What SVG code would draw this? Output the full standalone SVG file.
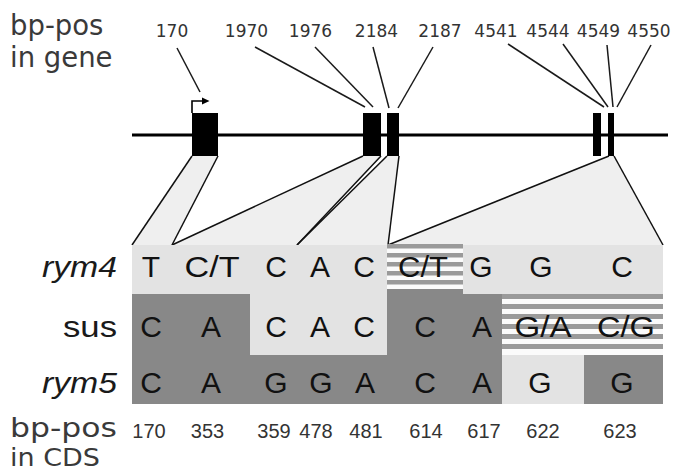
<svg xmlns="http://www.w3.org/2000/svg" width="674" height="475" viewBox="0 0 674 475">
  <style>
    .axis { font-family: "DejaVu Sans", Verdana, sans-serif; fill: #3a3a3a; }
    .gpos { font-family: "DejaVu Sans", Verdana, sans-serif; font-size: 17px; fill: #333; text-anchor: middle; }
    .base { font-family: "Liberation Sans", Arial, sans-serif; font-size: 30px; fill: #111; text-anchor: middle; }
    .row { font-family: "Liberation Sans", Arial, sans-serif; font-size: 30px; fill: #1a1a1a; text-anchor: end; }
    .cpos { font-family: "Liberation Sans", Arial, sans-serif; font-size: 20px; fill: #333; text-anchor: middle; }
    .lead { stroke: #1a1a1a; stroke-width: 1.5; fill: none; }
    .proj { fill: #efefef; stroke: none; }
    .edge { stroke: #111; stroke-width: 1.5; fill: none; }
    .exon { fill: #000; }
    .lt { fill: #e3e3e3; }
    .dk { fill: #888; }
    .wh { fill: #fbfbfb; }
    .st { fill: #9a9a9a; }
  </style>

  <!-- axis captions -->
  <g id="caption-gene">
    <text class="axis" x="10" y="35" font-size="27.5">bp-pos</text>
    <text class="axis" x="10" y="67" font-size="27.5">in gene</text>
  </g>
  <g id="caption-cds">
    <text class="axis" x="10" y="437" font-size="26" textLength="107" lengthAdjust="spacingAndGlyphs">bp-pos</text>
    <text class="axis" x="10" y="466" font-size="24" textLength="90" lengthAdjust="spacingAndGlyphs">in CDS</text>
  </g>

  <!-- projections from exons onto the alignment -->
  <g id="projections">
    <polygon class="proj" points="192,156 218,156 172,245 132,245"/>
    <polygon class="proj" points="363,156 381,156 297,245 172,245"/>
    <polygon class="proj" points="387,156 399,156 388,245 297,245"/>
    <polygon class="proj" points="608,156 614,156 663,245 388,245"/>
  </g>

  <!-- gene model -->
  <g id="gene">
    <line x1="132" y1="135" x2="668" y2="135" stroke="#000" stroke-width="3"/>
    <rect id="exon1" class="exon" x="192" y="113" width="26" height="43"/>
    <rect id="exon2" class="exon" x="363" y="113" width="18" height="43"/>
    <rect id="exon3" class="exon" x="387" y="113" width="12" height="43"/>
    <rect id="exon4" class="exon" x="593" y="113" width="8" height="43"/>
    <rect id="exon5" class="exon" x="608" y="113" width="6" height="43"/>
    <path d="M192,113 V101 H203" stroke="#000" stroke-width="1.6" fill="none"/>
    <polygon points="202,97.5 209.5,101 202,104.5" fill="#000"/>
  </g>

  <!-- gene position labels -->
  <g id="gene-positions">
    <text class="gpos" x="172" y="37">170</text>
    <text class="gpos" x="246.5" y="37">1970</text>
    <text class="gpos" x="310.5" y="37">1976</text>
    <text class="gpos" x="376.5" y="37">2184</text>
    <text class="gpos" x="440" y="37">2187</text>
    <text class="gpos" x="496" y="37">4541</text>
    <text class="gpos" x="548" y="37">4544</text>
    <text class="gpos" x="598.5" y="37">4549</text>
    <text class="gpos" x="649" y="37">4550</text>
  </g>

  <!-- connectors: label leaders and projection edges -->
  <g id="connectors">
    <line class="lead" x1="177" y1="48" x2="200" y2="92"/>
    <line class="lead" x1="255" y1="47" x2="365" y2="107"/>
    <line class="lead" x1="315" y1="47" x2="373" y2="107"/>
    <line class="lead" x1="373" y1="47" x2="389" y2="108"/>
    <line class="lead" x1="433" y1="47" x2="398" y2="108"/>
    <line class="lead" x1="508" y1="44" x2="604" y2="107"/>
    <line class="lead" x1="563" y1="44" x2="608" y2="107"/>
    <line class="lead" x1="607" y1="45" x2="613" y2="107"/>
    <line class="lead" x1="651" y1="45" x2="617" y2="107"/>

    <line class="edge" x1="192" y1="156" x2="132" y2="245"/>
    <line class="edge" x1="218" y1="156" x2="172" y2="245"/>
    <line class="edge" x1="363" y1="156" x2="172" y2="245"/>
    <line class="edge" x1="381" y1="156" x2="297" y2="245"/>
    <line class="edge" x1="387" y1="156" x2="297" y2="245"/>
    <line class="edge" x1="399" y1="156" x2="388" y2="245"/>
    <line class="edge" x1="609" y1="156" x2="388" y2="245"/>
    <line class="edge" x1="614" y1="156" x2="663" y2="245"/>
  </g>

  <!-- alignment cells -->
  <g id="alignment">
    <rect class="lt" x="132" y="245" width="531" height="49"/>
    <rect class="dk" x="132" y="294" width="531" height="110"/>
    <rect class="dk" x="387" y="289" width="76" height="5"/>
    <!-- sus light block -->
    <rect class="lt" x="250" y="294" width="137" height="61"/>
    <!-- rym5 light block -->
    <rect class="lt" x="502" y="355" width="82" height="49"/>
    <!-- heterozygous rym4 cell -->
    <g id="cell-rym4-614">
      <rect class="wh" x="387" y="244" width="76" height="45"/>
      <rect class="st" x="387" y="244" width="76" height="4.5"/>
      <rect class="st" x="387" y="253" width="76" height="4.5"/>
      <rect class="st" x="387" y="262" width="76" height="4.5"/>
      <rect class="st" x="387" y="271" width="76" height="4.5"/>
      <rect class="st" x="387" y="280" width="76" height="4.5"/>
    </g>
    <!-- heterozygous sus cells -->
    <g id="cell-sus-622-623">
      <rect class="wh" x="502" y="294" width="161" height="61"/>
      <rect class="st" x="502" y="294" width="161" height="5"/>
      <rect class="st" x="502" y="304" width="161" height="5"/>
      <rect class="st" x="502" y="314" width="161" height="5"/>
      <rect class="st" x="502" y="324" width="161" height="5"/>
      <rect class="st" x="502" y="334" width="161" height="5"/>
      <rect class="st" x="502" y="344" width="161" height="5"/>
    </g>
  </g>

  <!-- row labels -->
  <g id="row-labels">
    <text class="row" x="117" y="277" font-style="italic" textLength="75" lengthAdjust="spacingAndGlyphs">rym4</text>
    <text class="row" x="117" y="337" textLength="54" lengthAdjust="spacingAndGlyphs">sus</text>
    <text class="row" x="117" y="393" font-style="italic" textLength="75" lengthAdjust="spacingAndGlyphs">rym5</text>
  </g>

  <!-- bases -->
  <g id="row-rym4">
    <text class="base" x="151" y="277">T</text>
    <text class="base" x="212" y="277" textLength="55" lengthAdjust="spacingAndGlyphs">C/T</text>
    <text class="base" x="276" y="277">C</text>
    <text class="base" x="320" y="277">A</text>
    <text class="base" x="364" y="277">C</text>
    <text class="base" x="423" y="277" textLength="50" lengthAdjust="spacingAndGlyphs">C/T</text>
    <text class="base" x="481" y="277">G</text>
    <text class="base" x="541" y="277">G</text>
    <text class="base" x="622" y="277">C</text>
  </g>
  <g id="row-sus">
    <text class="base" x="151" y="337">C</text>
    <text class="base" x="211" y="337">A</text>
    <text class="base" x="276" y="337">C</text>
    <text class="base" x="320" y="337">A</text>
    <text class="base" x="364" y="337">C</text>
    <text class="base" x="425" y="337">C</text>
    <text class="base" x="482" y="337">A</text>
    <text class="base" x="543" y="337" textLength="57" lengthAdjust="spacingAndGlyphs">G/A</text>
    <text class="base" x="626" y="337" textLength="58" lengthAdjust="spacingAndGlyphs">C/G</text>
  </g>
  <g id="row-rym5">
    <text class="base" x="151" y="393">C</text>
    <text class="base" x="211" y="393">A</text>
    <text class="base" x="276" y="393">G</text>
    <text class="base" x="321" y="393">G</text>
    <text class="base" x="365" y="393">A</text>
    <text class="base" x="425" y="393">C</text>
    <text class="base" x="482" y="393">A</text>
    <text class="base" x="540" y="393">G</text>
    <text class="base" x="622" y="393">G</text>
  </g>

  <!-- CDS position labels -->
  <g id="cds-positions">
    <text class="cpos" x="149" y="438">170</text>
    <text class="cpos" x="207.5" y="438">353</text>
    <text class="cpos" x="274" y="438">359</text>
    <text class="cpos" x="316" y="438">478</text>
    <text class="cpos" x="366" y="438">481</text>
    <text class="cpos" x="426" y="438">614</text>
    <text class="cpos" x="484" y="438">617</text>
    <text class="cpos" x="543" y="438">622</text>
    <text class="cpos" x="620" y="438">623</text>
  </g>
</svg>
